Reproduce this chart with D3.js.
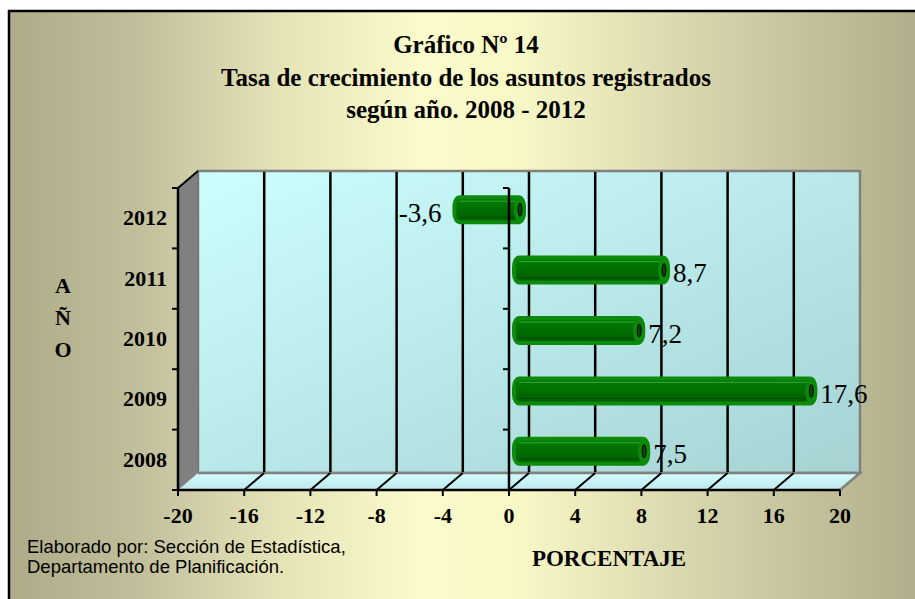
<!DOCTYPE html>
<html><head><meta charset="utf-8">
<script src="https://cdn.jsdelivr.net/npm/d3@7"></script>
<style>html,body{margin:0;padding:0;background:#fff}svg{display:block}</style>
</head><body>
<script>
const years = ["2008","2009","2010","2011","2012"];
const values = [7.5, 17.6, 7.2, 8.7, -3.6];
const valueLabels = ["7,5","17,6","7,2","8,7","-3,6"];
const xTicks = [-20,-16,-12,-8,-4,0,4,8,12,16,20];
const titleLines = ["Gráfico Nº 14","Tasa de crecimiento de los asuntos registrados","según año. 2008 - 2012"];
const yTitle = ["A","Ñ","O"];
const xTitle = "PORCENTAJE";
const footer = ["Elaborado por: Sección de Estadística,","Departamento de Planificación."];

(function(){
const W=915,H=599;
const svg=d3.select("body").append("svg").attr("width",W).attr("height",H);
const defs=svg.append("defs");
const bg=defs.append("linearGradient").attr("id","bg").attr("x1","0").attr("x2","1").attr("y1","0").attr("y2","0");
[[0,"#aeab89"],[0.12,"#bdbb98"],[0.3,"#e6e5b8"],[0.45,"#fbfbcb"],[0.55,"#f8f8c6"],[0.75,"#d6d4ab"],[1,"#aeac88"]].forEach(s=>bg.append("stop").attr("offset",s[0]).attr("stop-color",s[1]));
const wall=defs.append("linearGradient").attr("id","wall").attr("x1","0").attr("x2","1").attr("y1","0").attr("y2","1");
[[0,"#ccfefe"],[1,"#a6d2d2"]].forEach(s=>wall.append("stop").attr("offset",s[0]).attr("stop-color",s[1]));
const floorG=defs.append("linearGradient").attr("id","floor").attr("x1","0").attr("x2","0").attr("y1","0").attr("y2","1");
[[0,"#d2fcfc"],[1,"#bfe8ec"]].forEach(s=>floorG.append("stop").attr("offset",s[0]).attr("stop-color",s[1]));
const barG=defs.append("linearGradient").attr("id","barg").attr("x1","0").attr("x2","0").attr("y1","0").attr("y2","1");
[[0,"#007c00"],[0.5,"#006e00"],[1,"#005e00"]].forEach(s=>barG.append("stop").attr("offset",s[0]).attr("stop-color",s[1]));

svg.append("rect").attr("x",0).attr("y",0).attr("width",W).attr("height",H).attr("fill","#fff");
svg.append("rect").attr("x",9).attr("y",11).attr("width",W+10).attr("height",H+10).attr("fill","url(#bg)").attr("stroke","#000").attr("stroke-width",2.5);

const x=d3.scaleLinear().domain([-20,20]).range([178,840]);
const y=d3.scaleBand().domain(years.slice().reverse()).range([188,490]);
const DX=20, DY=-17;
const pTop=188, pBot=490;
const tf="'Liberation Serif','Times New Roman',serif";

const g=svg.append("g");
g.append("rect").attr("x",x(-20)+DX).attr("y",pTop+DY).attr("width",x(20)-x(-20)).attr("height",pBot-pTop)
  .attr("fill","url(#wall)").attr("stroke","#808080").attr("stroke-width",2.5);
g.append("path").attr("d",`M${x(-20)},${pTop}L${x(-20)+DX},${pTop+DY}L${x(-20)+DX},${pBot+DY}L${x(-20)},${pBot}Z`)
  .attr("fill","#808080").attr("stroke","#707070").attr("stroke-width",1);
g.append("path").attr("d",`M${x(-20)},${pBot}L${x(-20)+DX},${pBot+DY}L${x(20)+DX},${pBot+DY}L${x(20)},${pBot}Z`)
  .attr("fill","url(#floor)");
g.append("path").attr("d",`M${x(-20)+DX},${pBot+DY}L${x(20)+DX},${pBot+DY}L${x(20)},${pBot}`)
  .attr("fill","none").attr("stroke","#808080").attr("stroke-width",2.5);
g.selectAll(".bgrid").data(xTicks.slice(1,-1)).join("line")
  .attr("x1",d=>x(d)+DX).attr("x2",d=>x(d)+DX).attr("y1",pTop+DY+1).attr("y2",pBot+DY-1)
  .attr("stroke","#000").attr("stroke-width",2.5);
g.selectAll(".fgrid").data(xTicks.slice(1,-1)).join("line")
  .attr("x1",d=>x(d)).attr("x2",d=>x(d)+DX).attr("y1",pBot).attr("y2",pBot+DY)
  .attr("stroke","#000").attr("stroke-width",2);
g.append("line").attr("x1",x(-20)).attr("y1",pTop).attr("x2",x(-20)+DX).attr("y2",pTop+DY).attr("stroke","#000").attr("stroke-width",2);

const bx=DX/2, by=DY/2;
const bh=29, rx=7;
const bars=g.selectAll(".bar").data(years.map((yr,i)=>({yr,v:values[i],lab:valueLabels[i]}))).join("g");
bars.each(function(d){
  const s=d3.select(this);
  const x0=Math.min(x(0),x(d.v))+bx, x1=Math.max(x(0),x(d.v))+bx;
  const cy=y(d.yr)+y.bandwidth()/2+by;
  const t=cy-bh/2;
  s.append("rect").attr("x",x0-rx).attr("y",t).attr("width",x1-x0+2*rx).attr("height",bh).attr("rx",rx).attr("ry",bh/2.6)
   .attr("fill","#0b8a0b");
  s.append("rect").attr("x",x0-rx+4).attr("y",t+4).attr("width",x1-x0+2*rx-12).attr("height",bh-8).attr("rx",4)
   .attr("fill","url(#barg)");
  s.append("line").attr("x1",x0).attr("x2",x1-3).attr("y1",t+6).attr("y2",t+6).attr("stroke","#3fa23f").attr("stroke-width",1);
  s.append("line").attr("x1",x0).attr("x2",x1-3).attr("y1",t+bh-7).attr("y2",t+bh-7).attr("stroke","#004e00").attr("stroke-width",1);
  s.append("ellipse").attr("cx",x1+rx-6).attr("cy",cy).attr("rx",rx-1).attr("ry",bh/2-1).attr("fill","#0b8a0b");
  s.append("ellipse").attr("cx",x1+rx-6).attr("cy",cy).attr("rx",2).attr("ry",bh/2-8).attr("fill","#004800").attr("stroke","#000").attr("stroke-width",1);
  const lt=s.append("text").attr("y",cy+12).attr("font-family",tf)
    .attr("font-size",27).attr("fill","#000").text(d.lab);
  if(d.v>=0) lt.attr("x",x1+rx+3).attr("text-anchor","start");
  else lt.attr("x",x0-rx-11).attr("text-anchor","end");
});

g.append("line").attr("x1",x(-20)).attr("x2",x(20)).attr("y1",pBot).attr("y2",pBot).attr("stroke","#000").attr("stroke-width",2.5);
g.selectAll(".xt").data(xTicks).join("line").attr("x1",d=>x(d)).attr("x2",d=>x(d)).attr("y1",pBot).attr("y2",pBot+6)
  .attr("stroke","#000").attr("stroke-width",2);
g.selectAll(".xl").data(xTicks).join("text").attr("x",d=>x(d)).attr("y",523).attr("text-anchor","middle")
  .attr("font-family",tf).attr("font-weight","bold").attr("font-size",22).text(d=>d);
g.append("line").attr("x1",x(-20)).attr("x2",x(-20)).attr("y1",pTop).attr("y2",pBot).attr("stroke","#000").attr("stroke-width",2.5);
const yTickPos=years.map(yr=>y(yr)).concat([pBot]);
g.selectAll(".yt").data(yTickPos).join("line").attr("x1",x(-20)-6).attr("x2",x(-20)).attr("y1",d=>d).attr("y2",d=>d)
  .attr("stroke","#000").attr("stroke-width",2);
g.selectAll(".yl").data(years).join("text").attr("x",167).attr("y",d=>y(d)+y.bandwidth()/2+7).attr("text-anchor","end")
  .attr("font-family",tf).attr("font-weight","bold").attr("font-size",22).text(d=>d);
g.append("line").attr("x1",x(0)).attr("x2",x(0)).attr("y1",pTop).attr("y2",pBot).attr("stroke","#000").attr("stroke-width",2.5);
g.selectAll(".zt").data(yTickPos).join("line").attr("x1",x(0)-6).attr("x2",x(0)).attr("y1",d=>d).attr("y2",d=>d)
  .attr("stroke","#000").attr("stroke-width",2);

svg.selectAll(".title").data(titleLines).join("text").attr("x",466).attr("y",(d,i)=>53+i*32.5).attr("text-anchor","middle")
  .attr("font-family",tf).attr("font-weight","bold").attr("font-size",25).text(d=>d);
svg.selectAll(".ytitle").data(yTitle).join("text").attr("x",63).attr("y",(d,i)=>293+i*32).attr("text-anchor","middle")
  .attr("font-family",tf).attr("font-weight","bold").attr("font-size",22).text(d=>d);
svg.append("text").attr("x",609).attr("y",566).attr("text-anchor","middle").attr("font-family",tf).attr("font-weight","bold")
  .attr("font-size",23).text(xTitle);
svg.selectAll(".foot").data(footer).join("text").attr("x",27).attr("y",(d,i)=>553+i*19.5)
  .attr("font-family","'Liberation Sans',Arial,sans-serif").attr("font-size",18.5).text(d=>d);
})();
</script>
</body></html>
